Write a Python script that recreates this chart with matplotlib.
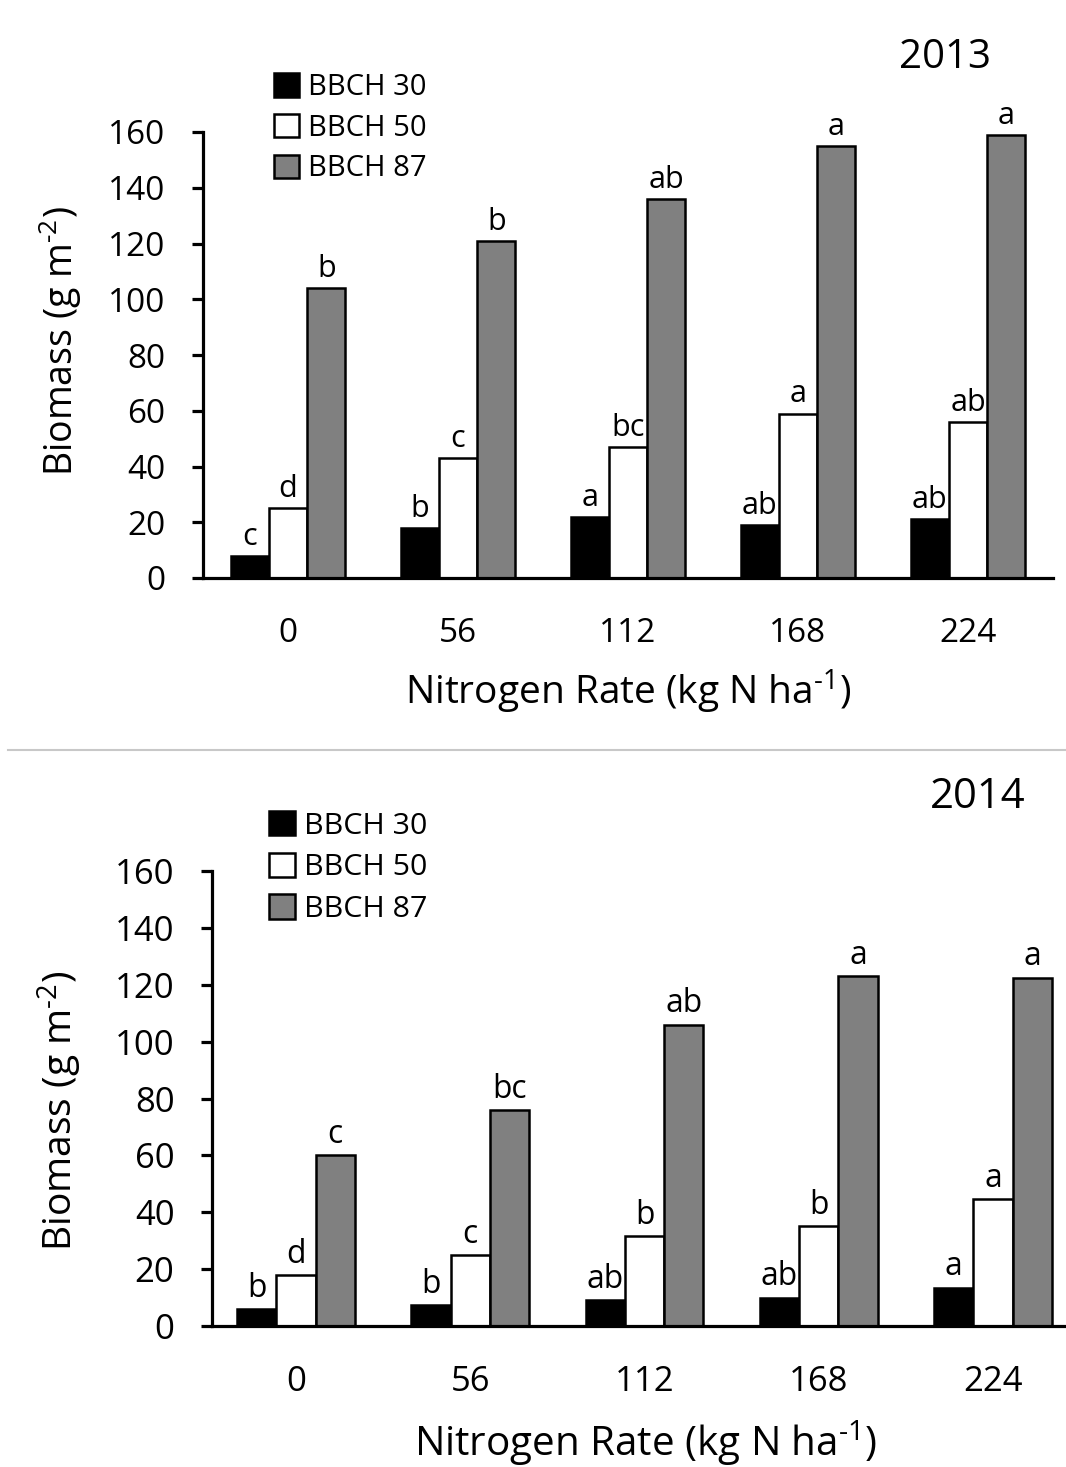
import matplotlib
matplotlib.use("Agg")
import matplotlib.pyplot as plt
from matplotlib.patches import Patch
from matplotlib.lines import Line2D

plt.rcParams['font.family'] = ['Open Sans', 'DejaVu Sans']
plt.rcParams['mathtext.fontset'] = 'custom'
plt.rcParams['mathtext.rm'] = 'Open Sans'

# data
rates = ['0', '56', '112', '168', '224']
stages = ['BBCH 30', 'BBCH 50', 'BBCH 87']

bio_2013_30 = [8, 18, 22, 19, 21]
bio_2013_50 = [25, 43, 47, 59, 56]
bio_2013_87 = [104, 121, 136, 155, 159]
let_2013_30 = ['c', 'b', 'a', 'ab', 'ab']
let_2013_50 = ['d', 'c', 'bc', 'a', 'ab']
let_2013_87 = ['b', 'b', 'ab', 'a', 'a']

bio_2014_30 = [6, 7.5, 9, 10, 13.5]
bio_2014_50 = [18, 25, 31.5, 35, 44.5]
bio_2014_87 = [60, 76, 106, 123, 122.5]
let_2014_30 = ['b', 'b', 'ab', 'ab', 'a']
let_2014_50 = ['d', 'c', 'b', 'b', 'a']
let_2014_87 = ['c', 'bc', 'ab', 'a', 'a']

colors = ['black', 'white', '#808080']

W, H = 1066, 1467
fig = plt.figure(figsize=(W / 100, H / 100), dpi=100)


def px_rect(left, right, top, bottom):
    return [left / W, 1 - bottom / H, (right - left) / W, (bottom - top) / H]


def panel(rect, xlim, series, letters, year, year_xy, leg_xy, ylab_xy, xlab_xy, scale=1.0):
    ax = fig.add_axes(rect)
    width = 0.225
    for k, (vals, labs) in enumerate(zip(series, letters)):
        xs = [i + (k - 1) * width for i in range(len(rates))]
        ax.bar(xs, vals, width, color=colors[k], edgecolor='black', linewidth=1.8, zorder=2)
        for x, v, t in zip(xs, vals, labs):
            ax.annotate(t, (x, v), xytext=(0, 3), textcoords='offset points',
                        ha='center', va='bottom', fontsize=22 * scale)
    ax.set_xlim(*xlim)
    ax.set_ylim(0, 160)
    ax.set_yticks(range(0, 161, 20))
    ax.set_xticks(range(len(rates)))
    ax.set_xticklabels(rates)
    for s in ['top', 'right']:
        ax.spines[s].set_visible(False)
    ax.spines['left'].set_linewidth(2.3)
    ax.spines['bottom'].set_linewidth(2.3)
    ax.tick_params(axis='y', length=8, width=2.3, pad=19, labelsize=24 * scale)
    ax.tick_params(axis='x', length=0, pad=28, labelsize=24 * scale)

    fig.text(year_xy[0] / W, 1 - year_xy[1] / H, year, ha='center', va='center', fontsize=29 * scale)
    fig.text(ylab_xy[0] / W, 1 - ylab_xy[1] / H, 'Biomass (g m$^{\\text{-2}}$)',
             rotation=90, ha='center', va='center', fontsize=27 * scale)
    fig.text(xlab_xy[0] / W, 1 - xlab_xy[1] / H, 'Nitrogen Rate (kg N ha$^{\\text{-1}}$)',
             ha='center', va='center', fontsize=28 * scale)

    handles = [Patch(facecolor=c, edgecolor='black', linewidth=1.8) for c in colors]
    ax.legend(handles, stages, loc='upper left', bbox_to_anchor=(leg_xy[0] / W, 1 - leg_xy[1] / H),
              bbox_transform=fig.transFigure, frameon=False, fontsize=21 * scale,
              handlelength=0.85, handleheight=0.85, handletextpad=0.3,
              labelspacing=0.4, borderpad=0, borderaxespad=0)
    return ax


panel(px_rect(203, 1053, 132, 578), (-0.5, 4.5),
      [bio_2013_30, bio_2013_50, bio_2013_87],
      [let_2013_30, let_2013_50, let_2013_87],
      '2013', (945, 58), (274, 73), (60, 341), (628, 692))

panel(px_rect(212, 1066, 871, 1326), (-0.482, 4.419),
      [bio_2014_30, bio_2014_50, bio_2014_87],
      [let_2014_30, let_2014_50, let_2014_87],
      '2014', (978, 797), (269, 811), (60, 1111), (646, 1443), scale=1.04)

# separator between the two panels
fig.add_artist(Line2D([8 / W, 1], [1 - 750 / H] * 2, color='#c8c8c8', linewidth=1.5))

fig.savefig('out.png', dpi=100)
